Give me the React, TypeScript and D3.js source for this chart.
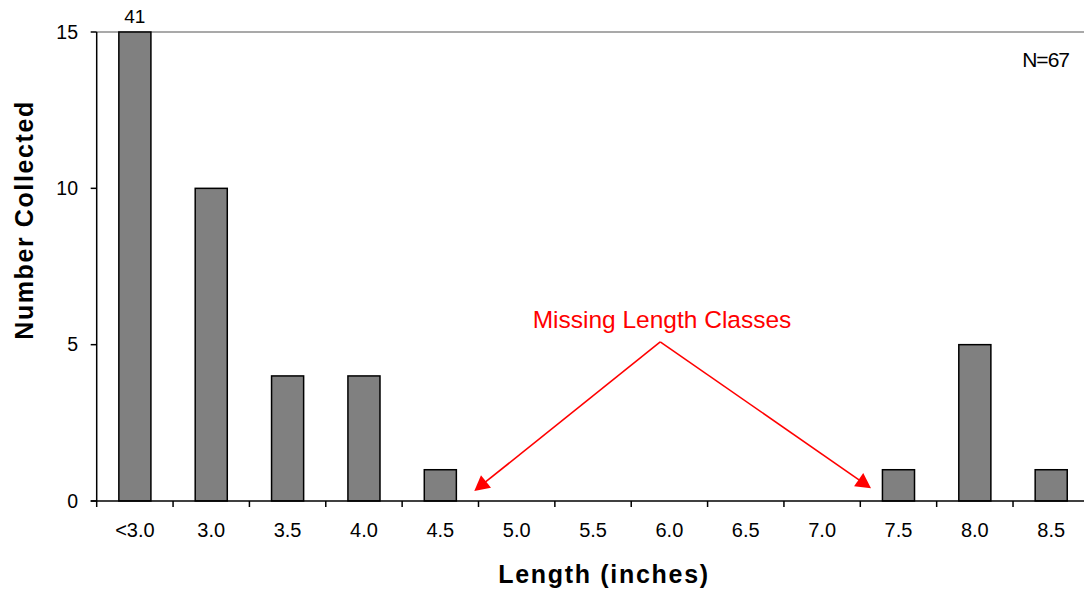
import React from "react";
import * as d3 from "d3";

const categories = ["<3.0", "3.0", "3.5", "4.0", "4.5", "5.0", "5.5", "6.0", "6.5", "7.0", "7.5", "8.0", "8.5"];
const counts = [41, 10, 4, 4, 1, 0, 0, 0, 0, 0, 1, 5, 1];
const yTicks = [0, 5, 10, 15];
const yMax = 15;
const totalLabel = "N=67";
const annotationText = "Missing Length Classes";
// annotation points in (category-interval units, count units)
const annotationStart: [number, number] = [7.38, 5.09];
const annotationTips: [number, number][] = [
  [4.945, 0.32],
  [10.14, 0.41],
];

const W = 1084;
const H = 596;
const FONT = "'Liberation Sans', Arial, sans-serif";

export default function App() {
  const left = 96.7;
  const right = left + 76.36 * categories.length;
  const top = 32;
  const bottom = 501;

  const x = d3.scaleBand<string>().domain(categories).range([left, right]).paddingInner(0.58).paddingOuter(0.29);
  const xIdx = d3.scaleLinear().domain([0, categories.length]).range([left, right]);
  const y = d3.scaleLinear().domain([0, yMax]).range([bottom, top]);

  const bw = x.bandwidth();

  const headLen = 15;
  const arrowHead = (sx: number, sy: number, tx: number, ty: number) => {
    const ang = Math.atan2(ty - sy, tx - sx);
    const half = 8;
    const bx = tx - headLen * Math.cos(ang);
    const by = ty - headLen * Math.sin(ang);
    const px = -Math.sin(ang) * half;
    const py = Math.cos(ang) * half;
    return `M${tx},${ty}L${bx + px},${by + py}L${bx - px},${by - py}Z`;
  };

  const sx = xIdx(annotationStart[0]);
  const sy = y(annotationStart[1]);

  return (
    <div style={{ position: "absolute", left: 0, top: 0 }}>
      <svg width={W} height={H} style={{ display: "block", background: "#fff" }}>
        {/* top plot border */}
        <line x1={left} x2={right} y1={top} y2={top} stroke="#8c8c8c" strokeWidth={1.5} />
        {/* bars */}
        {categories.map((c, i) => {
          const v = Math.min(counts[i], yMax);
          if (counts[i] <= 0) return null;
          return (
            <rect
              key={c}
              x={x(c)!}
              y={y(v)}
              width={bw}
              height={bottom - y(v)}
              fill="#808080"
              stroke="#000"
              strokeWidth={1.5}
            />
          );
        })}
        {/* clipped bar value label */}
        {categories.map((c, i) =>
          counts[i] > yMax ? (
            <text key={"l" + c} x={x(c)! + bw / 2} y={16} dy="0.35em" textAnchor="middle" fontFamily={FONT} fontSize={19}>
              {counts[i]}
            </text>
          ) : null
        )}
        {/* y axis */}
        <line x1={left} x2={left} y1={top} y2={bottom} stroke="#000" strokeWidth={1.5} />
        {yTicks.map((t) => (
          <g key={t}>
            <line x1={left - 6} x2={left} y1={y(t)} y2={y(t)} stroke="#000" strokeWidth={1.5} />
            <text x={78} y={y(t)} dy="0.35em" textAnchor="end" fontFamily={FONT} fontSize={19.5}>
              {t}
            </text>
          </g>
        ))}
        {/* x axis */}
        <line x1={left - 6} x2={right} y1={bottom} y2={bottom} stroke="#000" strokeWidth={1.5} />
        {d3.range(categories.length + 1).map((i) => (
          <line key={"t" + i} x1={xIdx(i)} x2={xIdx(i)} y1={bottom} y2={bottom + 6} stroke="#000" strokeWidth={1.5} />
        ))}
        {categories.map((c) => (
          <text key={"x" + c} x={x(c)! + bw / 2} y={530} dy="0.35em" textAnchor="middle" fontFamily={FONT} fontSize={20}>
            {c}
          </text>
        ))}
        {/* axis titles */}
        <text x={604} y={574} dy="0.35em" textAnchor="middle" fontFamily={FONT} fontSize={25} fontWeight="bold" letterSpacing={1.7}>
          Length (inches)
        </text>
        <text
          transform={`translate(24,220) rotate(-90)`}
          dy="0.35em"
          textAnchor="middle"
          fontFamily={FONT}
          fontSize={25}
          fontWeight="bold"
          letterSpacing={1.6}
        >
          Number Collected
        </text>
        {/* N label */}
        <text x={1069} y={60} dy="0.35em" textAnchor="end" fontFamily={FONT} fontSize={21} letterSpacing={-1}>
          {totalLabel}
        </text>
        {/* annotation */}
        <text x={662} y={319} dy="0.35em" textAnchor="middle" fontFamily={FONT} fontSize={24.5} fill="#ff0000">
          {annotationText}
        </text>
        {annotationTips.map(([tx0, ty0], i) => {
          const tx = xIdx(tx0);
          const ty = y(ty0);
          const ang = Math.atan2(ty - sy, tx - sx);
          const ex = tx - (headLen - 3) * Math.cos(ang);
          const ey = ty - (headLen - 3) * Math.sin(ang);
          return (
            <g key={"a" + i}>
              <line x1={sx} y1={sy} x2={ex} y2={ey} stroke="#ff0000" strokeWidth={1.6} />
              <path d={arrowHead(sx, sy, tx, ty)} fill="#ff0000" />
            </g>
          );
        })}
      </svg>
    </div>
  );
}
